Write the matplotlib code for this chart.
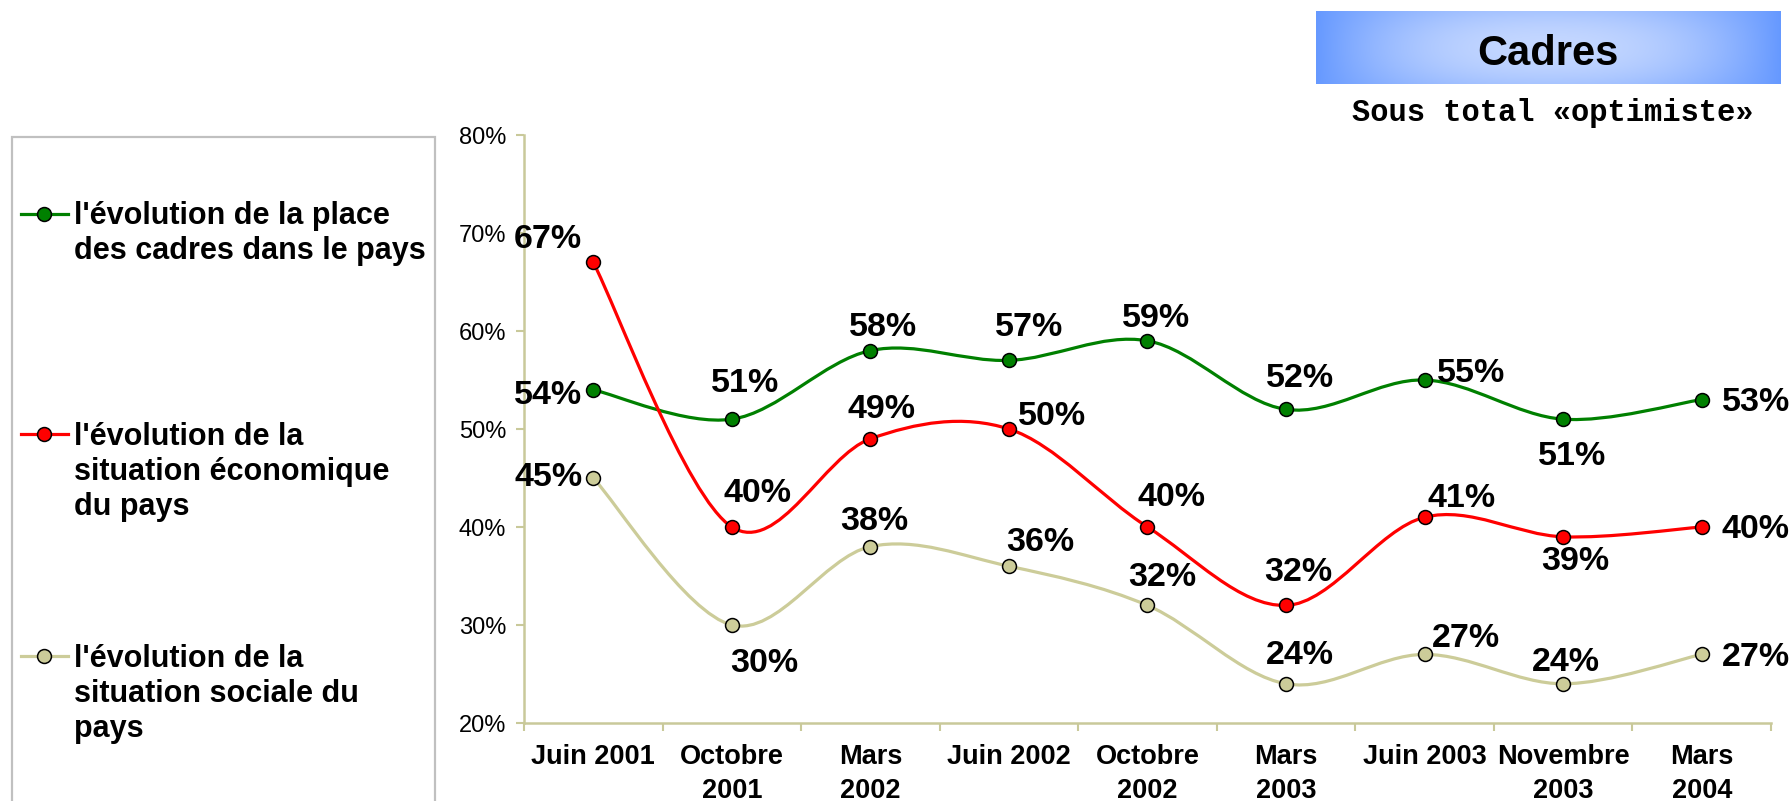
import numpy as np
import matplotlib
matplotlib.use("Agg")
import matplotlib.pyplot as plt
from matplotlib.path import Path
from matplotlib.patches import PathPatch, Rectangle
from matplotlib.lines import Line2D

plt.rcParams['font.family'] = ['Liberation Sans', 'DejaVu Sans']

# ---------------- data ----------------
categories = ["Juin 2001", "Octobre\n2001", "Mars\n2002", "Juin 2002", "Octobre\n2002",
              "Mars\n2003", "Juin 2003", "Novembre\n2003", "Mars\n2004"]
place_cadres = [54, 51, 58, 57, 59, 52, 55, 51, 53]
situation_eco = [67, 40, 49, 50, 40, 32, 41, 39, 40]
situation_sociale = [45, 30, 38, 36, 32, 24, 27, 24, 27]
series_labels = ["l'évolution de la place\ndes cadres dans le pays",
                 "l'évolution de la\nsituation économique\ndu pays",
                 "l'évolution de la\nsituation sociale du\npays"]
y_ticks = [20, 30, 40, 50, 60, 70, 80]
title = "Cadres"
subtitle = "Sous total «optimiste»"

# ---------------- styles / layout ----------------
colors = ["#008000", "#FF0000", "#CCCC99"]
axis_color = "#C9C99A"
W, H = 1791, 801
PX = 0.72  # points per pixel at dpi 100

# label offsets in pixels (dx, dy up, horizontal alignment)
label_offsets = [
    [(-11, -3, 'right'), (13, 39, 'center'), (13, 26, 'center'), (20, 36, 'center'), (9, 25, 'center'),
     (14, 34, 'center'), (12, 10, 'left'), (9, -34, 'center'), (20, 0, 'left')],
    [(-11, 26, 'right'), (26, 37, 'center'), (11, 32, 'center'), (9, 16, 'left'), (24, 33, 'center'),
     (12, 36, 'center'), (3, 22, 'left'), (12, -22, 'center'), (20, 0, 'left')],
    [(-11, 4, 'right'), (32, -36, 'center'), (4, 28, 'center'), (31, 27, 'center'), (15, 31, 'center'),
     (14, 31, 'center'), (7, 19, 'left'), (3, 24, 'center'), (20, 0, 'left')],
]

fig = plt.figure(figsize=(W / 100, H / 100), dpi=100)

# background / decoration axes in pixel coordinates
bg = fig.add_axes([0, 0, 1, 1], zorder=0)
bg.set_xlim(0, W)
bg.set_ylim(H, 0)
bg.axis('off')

# main axes
L, R, T, B = 524, 1771, 135, 723
ax = fig.add_axes([L / W, (H - B) / H, (R - L) / W, (B - T) / H], zorder=1)
ax.patch.set_alpha(0)


def smooth_path(xs, ys):
    P = np.column_stack([xs, ys]).astype(float)
    n = len(P)
    verts = [tuple(P[0])]
    codes = [Path.MOVETO]
    for i in range(n - 1):
        p0 = P[i - 1] if i > 0 else P[i]
        p1 = P[i]
        p2 = P[i + 1]
        p3 = P[i + 2] if i + 2 < n else P[i + 1]
        c1 = p1 + (p2 - p0) / 6.0
        c2 = p2 - (p3 - p1) / 6.0
        verts += [tuple(c1), tuple(c2), tuple(p2)]
        codes += [Path.CURVE4] * 3
    return Path(verts, codes)


x = np.arange(len(categories))
all_series = [place_cadres, situation_eco, situation_sociale]
for k, (vals, col) in enumerate(zip(all_series, colors)):
    v = np.array(vals) / 100.0
    ax.add_patch(PathPatch(smooth_path(x, v), facecolor='none', edgecolor=col,
                           lw=2.3, zorder=2 + k * 0.1, capstyle='round'))
    ax.plot(x, v, linestyle='none', marker='o', ms=10, mfc=col, mec='black',
            mew=1.1, zorder=3 + k * 0.1)
    for i, val in enumerate(vals):
        dx, dy, ha = label_offsets[k][i]
        ax.annotate(f"{val}%", (i, val / 100.0), xytext=(dx * PX, (dy - 3) * PX),
                    textcoords='offset points', ha=ha, va='center',
                    fontsize=24.5, fontweight='bold', color='black', zorder=5)

ax.set_xlim(-0.5, len(categories) - 0.5)
ax.set_ylim(0.2, 0.8)
ax.set_yticks([t / 100 for t in y_ticks])
ax.set_yticklabels([f"{t}%" for t in y_ticks], fontsize=17)
ax.set_xticks(x)
ax.set_xticklabels(categories, fontsize=19.5, fontweight='bold', linespacing=1.4)
ax.set_xticks(np.arange(-0.5, len(categories)), minor=True)
ax.tick_params(axis='x', which='major', length=0, pad=15)
ax.tick_params(axis='x', which='minor', length=8 * PX, width=1.5, color=axis_color, direction='out')
ax.tick_params(axis='y', length=8 * PX, width=1.5, color=axis_color, pad=7, direction='out')
for s in ['top', 'right']:
    ax.spines[s].set_visible(False)
for s in ['left', 'bottom']:
    ax.spines[s].set_color(axis_color)
    ax.spines[s].set_linewidth(1.8)

# ---------------- legend (manual) ----------------
bg.add_patch(Rectangle((12, 137), 423, 700, facecolor='white', edgecolor='#C0C0C0', lw=1.6, zorder=1))
legend_y = [214, 434, 656]
line_step = 36
for col, lab, yy in zip(colors, series_labels, legend_y):
    bg.add_line(Line2D([21, 68], [yy, yy], color=col, lw=2.3, zorder=2))
    bg.add_line(Line2D([44], [yy], marker='o', ms=10, mfc=col, mec='black', mew=1.1, zorder=3))
    nlines = lab.count("\n")
    bg.text(74, yy + 9 + nlines * line_step, lab, fontsize=22, fontweight='bold', ha='left',
            va='baseline', linespacing=1.22, zorder=3)

# ---------------- title box ----------------
gx = np.linspace(-1, 1, 400)
gy = np.linspace(-1, 1, 60)
GX, GY = np.meshgrid(gx, gy)
t = np.clip((1 - np.abs(GX) ** 2.2) * (1 - 0.3 * GY ** 2), 0, 1)
c_edge = np.array([0x66, 0x99, 0xFF]) / 255.0
c_mid = np.array([0xC4, 0xD7, 0xFF]) / 255.0
img = c_edge[None, None, :] * (1 - t[..., None]) + c_mid[None, None, :] * t[..., None]
bg.imshow(img, extent=(1316, 1781, 84, 11), origin='upper', aspect='auto', zorder=1)
bg.set_xlim(0, W)
bg.set_ylim(H, 0)
bg.text(1548, 65, title, fontsize=30, fontweight='bold', ha='center', va='baseline', zorder=3)
bg.text(1553, 121, subtitle, fontsize=22, fontweight='bold', ha='center', va='baseline',
        family=['Liberation Mono', 'DejaVu Sans Mono'], zorder=3)

fig.savefig("out.png", dpi=100)
